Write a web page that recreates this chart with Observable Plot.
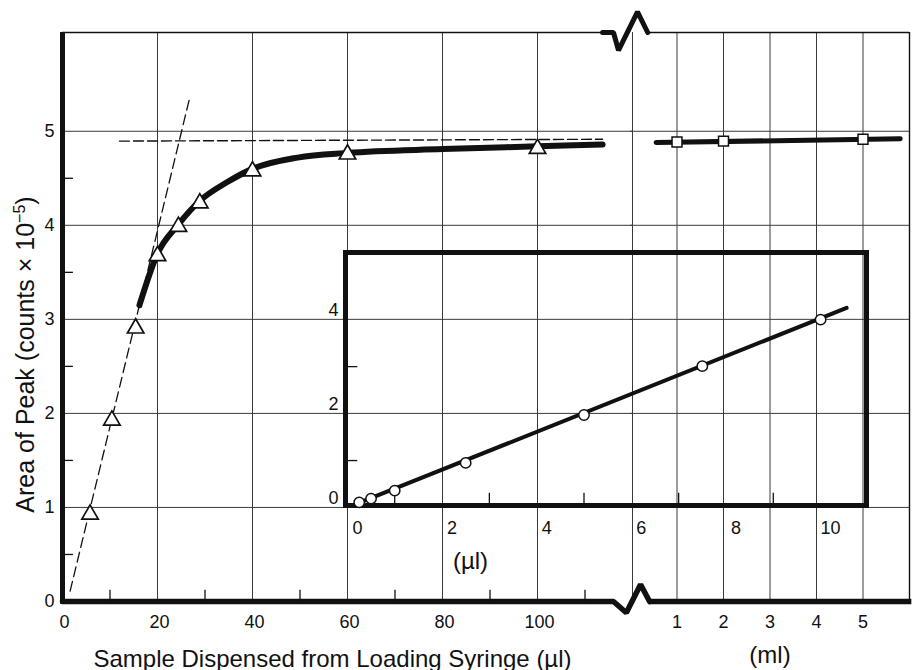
<!DOCTYPE html>
<html><head><meta charset="utf-8">
<script src="https://cdn.jsdelivr.net/npm/d3@7"></script>
<script src="https://cdn.jsdelivr.net/npm/@observablehq/plot@0.6"></script>
<style>
html,body{margin:0;padding:0;background:#fff;}
#chart{position:relative;width:916px;height:670px;overflow:hidden;background:#fff;}
#chart svg{position:absolute;left:0;top:0;}
</style></head><body><div id="chart"></div>
<script>
// ---------------- data ----------------
// main panel, µl scale (triangles)
const triX = [5.8, 10.4, 15.4, 20, 24.4, 28.9, 40, 60, 100];
const triY = [0.95, 1.95, 2.93, 3.70, 4.01, 4.26, 4.60, 4.78, 4.84];
// smooth thick curve through the triangles
const curveX = [16.2, 20, 24.4, 28.9, 34.7, 40, 49.5, 60, 80, 100, 113.7];
const curveY = [3.15, 3.70, 4.01, 4.26, 4.46, 4.60, 4.72, 4.77, 4.81, 4.84, 4.86];
// dashed initial-slope line and dashed plateau line
const slopeX = [1.6, 26.7];
const slopeY = [0.11, 5.34];
const plateauX = [12, 113.7];
const plateauY = [4.895, 4.915];
// main panel, ml scale (squares)
const sqX = [1, 2, 5];
const sqY = [4.885, 4.895, 4.915];
const sqLineX = [0.55, 5.8];
const sqLineY = [4.88, 4.92];
// inset (µl)
const insetX = [0.25, 0.5, 1, 2.5, 5, 7.5, 10];
const insetY = [0.11, 0.19, 0.36, 0.95, 1.97, 3.01, 4.0];
const insetFitX = [0.15, 10.55];
const insetFitY = [0.06, 4.25];
// ticks
const ulTicks = [0, 20, 40, 60, 80, 100];
const ulGrid = [20, 40, 60, 80, 100, 120];
const ulMinor = [10, 30, 50, 70, 90, 110];
const mlTicks = [1, 2, 3, 4, 5];
const yTicks = [0, 1, 2, 3, 4, 5];
const yGrid = [1, 2, 3, 4, 5];
const yMinor = [0.5, 1.5, 2.5, 3.5, 4.5];
const insetXTicks = [0, 2, 4, 6, 8, 10];
const insetXMinor = [1, 3, 5, 7, 9];
const insetYTicks = [0, 2, 4];
const insetYMinor = [1, 3];
// texts
const xTitle = "Sample Dispensed from Loading Syringe (µl)";
const mlTitle = "(ml)";
const yTitle = "Area of Peak (counts × 10";
const yTitleExp = "−5";
const yTitleEnd = ")";
const insetTitle = "(µl)";

// ---------------- decoration: axis break glyphs (data units) ----------------
const Y_MAX = 6.05;
const brkTopX = [113.7, 116, 117.05, 121.05, 123.2];
const brkTopY = [Y_MAX, Y_MAX, 5.86, 6.27, Y_MAX];
const botLeftX = [0, 116, 118.7, 121.7, 123.6];
const botLeftY = [0, 0, -0.12, 0.18, 0];

const seq = (xs, ys) => xs.map((x, i) => ({x, y: ys[i]}));
const fmt = d => String(d);
const INK = "#111", GRID = "#3a3a3a";
const base = "font-family: 'Liberation Sans', Arial, Helvetica, sans-serif; font-size: 18px; background: transparent; overflow: visible;";
const W = 916, H = 670;

// ---------------- panel A: µl part of the main chart ----------------
const A = Plot.plot({
  width: W, height: H,
  marginLeft: 62, marginRight: W - 632, marginTop: 32, marginBottom: H - 601,
  style: base,
  x: {domain: [0, 120]},
  y: {domain: [0, Y_MAX]},
  marks: [
    Plot.ruleX(ulGrid, {y1: 0, y2: Y_MAX, stroke: GRID, strokeWidth: 1}),
    Plot.ruleY(yGrid, {x1: 0, x2: 120, stroke: GRID, strokeWidth: 1}),
    Plot.ruleY([Y_MAX], {x1: 0, x2: 113.7, stroke: INK, strokeWidth: 1.4}),
    Plot.line(seq(brkTopX, brkTopY), {x: "x", y: "y", stroke: INK, strokeWidth: 5, strokeLinejoin: "miter"}),
    Plot.line(seq(botLeftX, botLeftY), {x: "x", y: "y", stroke: INK, strokeWidth: 5.5, strokeLinejoin: "miter"}),
    Plot.ruleX([0], {y1: -0.03, y2: Y_MAX, stroke: INK, strokeWidth: 5}),
    Plot.ruleX(ulMinor, {y1: 0, y2: 0.12, stroke: INK, strokeWidth: 1.3}),
    Plot.ruleY(yMinor, {x1: 0, x2: 2.3, stroke: INK, strokeWidth: 1.3}),
    Plot.line(seq(slopeX, slopeY), {x: "x", y: "y", stroke: INK, strokeWidth: 1.3, strokeDasharray: "10,5"}),
    Plot.line(seq(plateauX, plateauY), {x: "x", y: "y", stroke: INK, strokeWidth: 1.4, strokeDasharray: "10,4"}),
    Plot.line(seq(curveX, curveY), {x: "x", y: "y", curve: "monotone-x", stroke: INK, strokeWidth: 6}),
    Plot.dot(seq(triX, triY), {x: "x", y: "y", symbol: "triangle", r: 6.1, dy: 2.3, fill: "white", stroke: INK, strokeWidth: 1.7}),
    Plot.axisX(ulTicks, {anchor: "bottom", tickSize: 0, tickPadding: 14, label: null, fontSize: 18, dx: 2, fill: INK, tickFormat: fmt}),
    Plot.axisY(yTicks, {anchor: "left", tickSize: 0, tickPadding: 8, label: null, fontSize: 18, fill: INK, tickFormat: fmt}),
    Plot.text([xTitle], {text: d => d, frameAnchor: "bottom", dx: -15, dy: 65, lineAnchor: "bottom", fontSize: 24, fill: INK}),
    Plot.text([yTitle], {text: d => d, frameAnchor: "left", rotate: -90, dx: -29, dy: 37.5, lineAnchor: "bottom", textAnchor: "middle", fontSize: 25, fill: INK})
  ]
});

// superscript exponent in the y title
d3.select(A).selectAll("text").filter(function () { return this.textContent === yTitle; }).each(function () {
  const t = d3.select(this);
  t.append("tspan").attr("dy", -9).attr("font-size", "16px").text(yTitleExp);
  t.append("tspan").attr("dy", 9).attr("font-size", "25px").text(yTitleEnd);
});

// ---------------- panel B: ml part of the main chart ----------------
const B = Plot.plot({
  width: W, height: H,
  marginLeft: 630, marginRight: W - 909, marginTop: 32, marginBottom: H - 601,
  style: base,
  x: {domain: [0, 6]},
  y: {domain: [0, Y_MAX], axis: null},
  marks: [
    Plot.ruleX(mlTicks, {y1: 0, y2: Y_MAX, stroke: GRID, strokeWidth: 1}),
    Plot.ruleX([6], {y1: 0, y2: Y_MAX, stroke: INK, strokeWidth: 1.4}),
    Plot.ruleY(yGrid, {x1: 0, x2: 6, stroke: GRID, strokeWidth: 1}),
    Plot.ruleY([Y_MAX], {x1: 0.37, x2: 6, stroke: INK, strokeWidth: 1.4}),
    Plot.ruleY([0], {x1: 0.41, x2: 6.05, stroke: INK, strokeWidth: 5.5}),
    Plot.line(seq(sqLineX, sqLineY), {x: "x", y: "y", stroke: INK, strokeWidth: 5}),
    Plot.dot(seq(sqX, sqY), {x: "x", y: "y", symbol: "square", r: 5.6, fill: "white", stroke: INK, strokeWidth: 1.5}),
    Plot.axisX(mlTicks, {anchor: "bottom", tickSize: 0, tickPadding: 14, label: null, fontSize: 18, fill: INK, tickFormat: fmt}),
    Plot.text([mlTitle], {text: d => d, frameAnchor: "bottom", dy: 61, lineAnchor: "bottom", fontSize: 24, fill: INK})
  ]
});

// ---------------- panel C: inset ----------------
const IX0 = -0.04, IX1 = 10.97, IY0 = 0.043, IY1 = 5.43;
const C = Plot.plot({
  width: W, height: H,
  marginLeft: 345, marginRight: W - 866, marginTop: 252, marginBottom: H - 505,
  style: base,
  x: {domain: [IX0, IX1]},
  y: {domain: [IY0, IY1]},
  marks: [
    Plot.ruleX(insetXMinor, {y1: IY0, y2: IY0 + 0.26, stroke: INK, strokeWidth: 1.3}),
    Plot.ruleY(insetYMinor, {x1: IX0, x2: IX0 + 0.26, stroke: INK, strokeWidth: 1.3}),
    Plot.frame({stroke: INK, strokeWidth: 5}),
    Plot.line(seq(insetFitX, insetFitY), {x: "x", y: "y", stroke: INK, strokeWidth: 4}),
    Plot.dot(seq(insetX, insetY), {x: "x", y: "y", r: 5.2, fill: "white", stroke: INK, strokeWidth: 1.5}),
    Plot.axisX(insetXTicks, {anchor: "bottom", tickSize: 0, tickPadding: 16, label: null, fontSize: 18, dx: 10, fill: INK, tickFormat: fmt}),
    Plot.axisY(insetYTicks, {anchor: "left", tickSize: 0, tickPadding: 7, label: null, fontSize: 18, dy: -9, fill: INK, tickFormat: fmt}),
    Plot.text([insetTitle], {text: d => d, frameAnchor: "bottom", dx: -135.5, dy: 63, lineAnchor: "bottom", fontSize: 24, fill: INK})
  ]
});

const host = document.getElementById("chart");
host.append(A, B, C);
</script>
</body></html>
